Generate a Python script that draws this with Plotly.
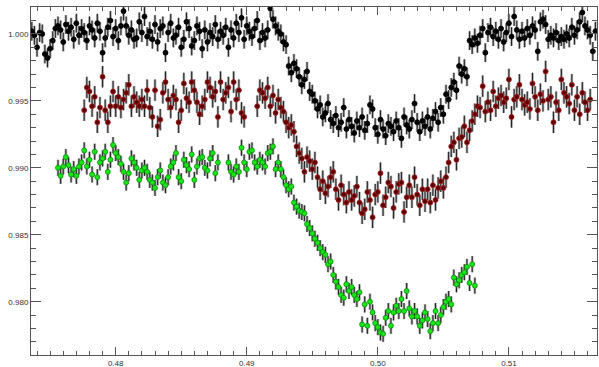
import plotly.graph_objects as go

# shared phase sampling grid (0.4736 ... 0.5166)
phase_grid = [
    0.4736, 0.4738, 0.4740, 0.4742, 0.4744, 0.4746, 0.4748, 0.4750, 0.4752, 0.4754,
    0.4756, 0.4758, 0.4760, 0.4762, 0.4764, 0.4766, 0.4768, 0.4770, 0.4772, 0.4774,
    0.4776, 0.4778, 0.4780, 0.4782, 0.4784, 0.4786, 0.4788, 0.4790, 0.4792, 0.4794,
    0.4796, 0.4798, 0.4800, 0.4802, 0.4804, 0.4806, 0.4808, 0.4810, 0.4812, 0.4814,
    0.4816, 0.4818, 0.4820, 0.4822, 0.4824, 0.4826, 0.4828, 0.4830, 0.4832, 0.4834,
    0.4836, 0.4838, 0.4840, 0.4842, 0.4844, 0.4846, 0.4848, 0.4850, 0.4852, 0.4854,
    0.4856, 0.4858, 0.4860, 0.4862, 0.4864, 0.4866, 0.4868, 0.4870, 0.4872, 0.4874,
    0.4876, 0.4878, 0.4880, 0.4882, 0.4884, 0.4886, 0.4888, 0.4890, 0.4892, 0.4894,
    0.4896, 0.4898, 0.4900, 0.4902, 0.4904, 0.4906, 0.4908, 0.4910, 0.4912, 0.4914,
    0.4916, 0.4918, 0.4920, 0.4922, 0.4924, 0.4926, 0.4928, 0.4930, 0.4932, 0.4934,
    0.4936, 0.4938, 0.4940, 0.4942, 0.4944, 0.4946, 0.4948, 0.4950, 0.4952, 0.4954,
    0.4956, 0.4958, 0.4960, 0.4962, 0.4964, 0.4966, 0.4968, 0.4970, 0.4972, 0.4974,
    0.4976, 0.4978, 0.4980, 0.4982, 0.4984, 0.4986, 0.4988, 0.4990, 0.4992, 0.4994,
    0.4996, 0.4998, 0.5000, 0.5002, 0.5004, 0.5006, 0.5008, 0.5010, 0.5012, 0.5014,
    0.5016, 0.5018, 0.5020, 0.5022, 0.5024, 0.5026, 0.5028, 0.5030, 0.5032, 0.5034,
    0.5036, 0.5038, 0.5040, 0.5042, 0.5044, 0.5046, 0.5048, 0.5050, 0.5052, 0.5054,
    0.5056, 0.5058, 0.5060, 0.5062, 0.5064, 0.5066, 0.5068, 0.5070, 0.5072, 0.5074,
    0.5076, 0.5078, 0.5080, 0.5082, 0.5084, 0.5086, 0.5088, 0.5090, 0.5092, 0.5094,
    0.5096, 0.5098, 0.5100, 0.5102, 0.5104, 0.5106, 0.5108, 0.5110, 0.5112, 0.5114,
    0.5116, 0.5118, 0.5120, 0.5122, 0.5124, 0.5126, 0.5128, 0.5130, 0.5132, 0.5134,
    0.5136, 0.5138, 0.5140, 0.5142, 0.5144, 0.5146, 0.5148, 0.5150, 0.5152, 0.5154,
    0.5156, 0.5158, 0.5160, 0.5162, 0.5164, 0.5166,
]

# top light curve (black), whole grid
black_phase = phase_grid
black_flux = [
    1.0002, 0.9999, 0.9990, 1.0001, 1.0000, 0.9985, 0.9982, 0.9989, 0.9995, 1.0004,
    1.0006, 1.0003, 0.9994, 1.0007, 1.0002, 1.0005, 0.9996, 1.0008, 0.9999, 1.0004,
    1.0001, 0.9995, 1.0006, 1.0003, 0.9997, 1.0008, 1.0002, 0.9986, 0.9997, 1.0005,
    1.0010, 0.9998, 1.0004, 0.9995, 1.0006, 1.0017, 1.0006, 0.9999, 1.0003, 0.9996,
    0.9997, 1.0009, 1.0001, 1.0013, 0.9998, 1.0002, 0.9996, 1.0007, 0.9994, 1.0004,
    1.0006, 0.9986, 1.0001, 1.0008, 0.9997, 0.9999, 1.0005, 0.9990, 0.9996, 1.0009,
    1.0004, 0.9991, 0.9995, 1.0006, 1.0002, 0.9989, 1.0003, 0.9994, 1.0001, 0.9998,
    1.0007, 0.9996, 1.0002, 0.9999, 1.0005, 0.9990, 1.0003, 0.9997, 1.0008, 1.0001,
    1.0012, 0.9996, 1.0006, 1.0002, 0.9998, 1.0004, 1.0010, 0.9995, 1.0001, 0.9997,
    1.0003, 1.0019, 1.0011, 1.0006, 1.0002, 1.0000, 0.9994, 0.9992,
    0.9976, 0.9971, 0.9978, 0.9974, 0.9968, 0.9962, 0.9966, 0.9972, 0.9957, 0.9955,
    0.9950, 0.9944, 0.9947, 0.9938, 0.9941, 0.9948, 0.9936, 0.9933, 0.9939, 0.9930,
    0.9934, 0.9945, 0.9929, 0.9936, 0.9931, 0.9926, 0.9935, 0.9930, 0.9938, 0.9928,
    0.9933, 0.9947, 0.9944, 0.9930, 0.9925, 0.9936, 0.9929, 0.9924, 0.9933, 0.9931,
    0.9927, 0.9935, 0.9930, 0.9922, 0.9938, 0.9932, 0.9929, 0.9936, 0.9948, 0.9934,
    0.9927, 0.9935, 0.9931, 0.9938, 0.9929, 0.9937, 0.9942, 0.9934, 0.9945, 0.9940,
    0.9955, 0.9951, 0.9960, 0.9964, 0.9958, 0.9976, 0.9970, 0.9974, 0.9968,
    0.9995, 0.9992, 0.9997, 0.9993, 0.9999, 1.0004, 0.9986, 1.0001, 1.0005, 0.9998,
    1.0002, 0.9996, 1.0004, 0.9994, 1.0001, 1.0008, 0.9998, 1.0013, 1.0003, 0.9996,
    1.0002, 0.9997, 1.0004, 0.9999, 1.0006, 1.0003, 0.9987, 1.0009, 1.0011, 1.0007,
    0.9996, 0.9999, 0.9997, 1.0001, 0.9995, 0.9998, 0.9996, 1.0000, 0.9997, 1.0005,
    0.9999, 1.0003, 1.0009, 1.0016, 1.0006, 1.0003, 0.9999, 0.9987, 1.0002,
]
black_err = 0.0007

# middle light curve (dark red): 0.4776-0.4898 and 0.4908-0.5162
red_phase = phase_grid[20:82] + phase_grid[86:214]
red_flux = [
    0.9943, 0.9960, 0.9957, 0.9946, 0.9953, 0.9934, 0.9945, 0.9968, 0.9943, 0.9934,
    0.9946, 0.9957, 0.9946, 0.9953, 0.9945, 0.9951, 0.9956, 0.9962, 0.9946, 0.9953,
    0.9949, 0.9946, 0.9951, 0.9946, 0.9958, 0.9945, 0.9938, 0.9958, 0.9931, 0.9936,
    0.9956, 0.9964, 0.9951, 0.9945, 0.9954, 0.9951, 0.9934, 0.9943, 0.9963, 0.9952,
    0.9949, 0.9964, 0.9958, 0.9949, 0.9940, 0.9946, 0.9951, 0.9964, 0.9960, 0.9953,
    0.9957, 0.9938, 0.9964, 0.9951, 0.9956, 0.9960, 0.9942, 0.9964, 0.9951, 0.9958,
    0.9941, 0.9938,
    0.9946, 0.9958, 0.9956, 0.9952, 0.9960, 0.9946, 0.9954, 0.9941, 0.9951, 0.9945,
    0.9942, 0.9934, 0.9930, 0.9932, 0.9927, 0.9916, 0.9911, 0.9907, 0.9897, 0.9908,
    0.9905, 0.9899, 0.9904, 0.9893, 0.9884, 0.9890, 0.9881, 0.9886, 0.9893, 0.9897,
    0.9884, 0.9876, 0.9887, 0.9880, 0.9874, 0.9882, 0.9876, 0.9879, 0.9886, 0.9874,
    0.9866, 0.9869, 0.9882, 0.9876, 0.9863, 0.9880, 0.9882, 0.9896, 0.9872, 0.9878,
    0.9889, 0.9886, 0.9870, 0.9882, 0.9888, 0.9889, 0.9867, 0.9878, 0.9887, 0.9878,
    0.9893, 0.9880, 0.9872, 0.9884, 0.9875, 0.9884, 0.9874, 0.9887, 0.9876, 0.9885,
    0.9890, 0.9885, 0.9893, 0.9904, 0.9916, 0.9919, 0.9906, 0.9922, 0.9923, 0.9931,
    0.9919, 0.9928, 0.9935, 0.9940, 0.9946, 0.9945, 0.9961, 0.9942, 0.9949, 0.9943,
    0.9957, 0.9946, 0.9952, 0.9954, 0.9949, 0.9952, 0.9966, 0.9938, 0.9951, 0.9953,
    0.9962, 0.9951, 0.9947, 0.9949, 0.9944, 0.9963, 0.9953, 0.9943, 0.9955, 0.9950,
    0.9972, 0.9951, 0.9953, 0.9934, 0.9949, 0.9943, 0.9966, 0.9956, 0.9953, 0.9948,
    0.9962, 0.9943, 0.9953, 0.9940, 0.9956, 0.9949, 0.9943, 0.9951,
]
red_err = 0.0008

# bottom light curve (green): 0.4756-0.4878 and 0.4886-0.5074
green_phase = phase_grid[10:72] + phase_grid[75:170]
green_flux = [
    0.9900, 0.9894, 0.9901, 0.9908, 0.9902, 0.9895, 0.9899, 0.9894, 0.9901, 0.9904,
    0.9913, 0.9901, 0.9906, 0.9895, 0.9912, 0.9893, 0.9904, 0.9907, 0.9912, 0.9897,
    0.9906, 0.9917, 0.9911, 0.9908, 0.9903, 0.9897, 0.9889, 0.9896, 0.9907, 0.9904,
    0.9900, 0.9891, 0.9898, 0.9900, 0.9897, 0.9891, 0.9889, 0.9885, 0.9893, 0.9898,
    0.9889, 0.9887, 0.9893, 0.9901, 0.9904, 0.9911, 0.9893, 0.9890, 0.9906, 0.9902,
    0.9899, 0.9910, 0.9891, 0.9901, 0.9907, 0.9908, 0.9900, 0.9898, 0.9907, 0.9911,
    0.9896, 0.9904,
    0.9904, 0.9897, 0.9895, 0.9901, 0.9897, 0.9915, 0.9904, 0.9899, 0.9912, 0.9913,
    0.9904, 0.9901, 0.9906, 0.9904, 0.9901, 0.9911, 0.9912, 0.9916, 0.9899, 0.9904,
    0.9899, 0.9893, 0.9887, 0.9884, 0.9886, 0.9874, 0.9871, 0.9868, 0.9867, 0.9866,
    0.9858, 0.9855, 0.9851, 0.9847, 0.9844, 0.9840, 0.9837, 0.9835, 0.9828, 0.9830,
    0.9820, 0.9815, 0.9811, 0.9805, 0.9803, 0.9813, 0.9808, 0.9811, 0.9805, 0.9802,
    0.9807, 0.9783, 0.9798, 0.9782, 0.9800, 0.9792, 0.9784, 0.9781, 0.9777, 0.9776,
    0.9788, 0.9793, 0.9782, 0.9792, 0.9797, 0.9793, 0.9802, 0.9793, 0.9808, 0.9795,
    0.9789, 0.9793, 0.9789, 0.9782, 0.9786, 0.9792, 0.9787, 0.9778, 0.9784, 0.9793,
    0.9784, 0.9790, 0.9796, 0.9800, 0.9802, 0.9798, 0.9818, 0.9813, 0.9816, 0.9820,
    0.9822, 0.9826, 0.9814, 0.9828, 0.9812,
]
green_err = 0.0006

x_ticks = [0.48, 0.49, 0.50, 0.51]
x_tick_labels = ["0.48", "0.49", "0.50", "0.51"]
y_ticks = [0.980, 0.985, 0.990, 0.995, 1.000]
y_tick_labels = ["0.980", "0.985", "0.990", "0.995", "1.000"]

series = [
    (green_phase, green_flux, green_err, "#19e619", "#0a8a0a"),
    (red_phase, red_flux, red_err, "#5a0000", "#b02020"),
    (black_phase, black_flux, black_err, "#000000", "#000000"),
]

fig = go.Figure()
for ph, fl, er, fill, edge in series:
    # grey halo of the error bar
    fig.add_trace(go.Scatter(
        x=ph, y=fl, mode="markers",
        marker=dict(size=2, color="rgba(0,0,0,0)"),
        error_y=dict(type="constant", value=er, color="#a8a8a8", thickness=2.6, width=0),
        hoverinfo="skip", showlegend=False,
    ))
    # dark core of the error bar + point
    fig.add_trace(go.Scatter(
        x=ph, y=fl, mode="markers",
        marker=dict(size=5, color=fill, line=dict(color=edge, width=0.8)),
        error_y=dict(type="constant", value=er, color="#222222", thickness=1, width=0),
        showlegend=False,
    ))

axis_common = dict(
    showgrid=False, zeroline=False, showline=True, linecolor="#555555", linewidth=1,
    mirror="allticks", ticks="inside", tickcolor="#555555", automargin=False,
    tickfont=dict(family="Liberation Sans, Arial, sans-serif", size=8, color="#333333"),
)

fig.update_layout(
    width=599, height=367,
    margin=dict(l=31, r=2, t=7, b=12, autoexpand=False),
    paper_bgcolor="white", plot_bgcolor="white",
    xaxis=dict(
        range=[0.47354, 0.51672], tickvals=x_ticks, ticktext=x_tick_labels,
        ticklen=8,
        minor=dict(dtick=0.001, tick0=0.47, ticklen=4, ticks="inside", tickcolor="#555555"),
        **axis_common,
    ),
    yaxis=dict(
        range=[0.97602, 1.00201], tickvals=y_ticks, ticktext=y_tick_labels,
        ticklen=10,
        minor=dict(dtick=0.001, tick0=0.97, ticklen=5, ticks="inside", tickcolor="#555555"),
        **axis_common,
    ),
)

# remove the browser's default 8px page margin so the figure sits at (0, 0)
fig.write_html(
    "out.html",
    config={"displayModeBar": False},
    post_script="document.body.style.margin='0';",
)
